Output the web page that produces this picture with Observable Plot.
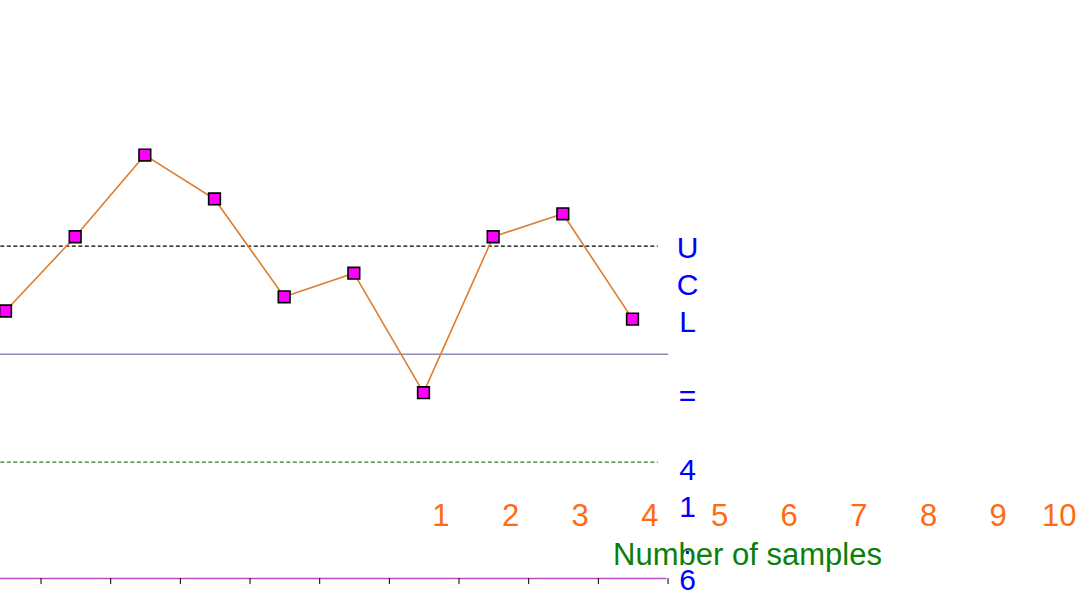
<!DOCTYPE html>
<html><head><meta charset="utf-8">
<script src="https://cdn.jsdelivr.net/npm/d3@7"></script>
<script src="https://cdn.jsdelivr.net/npm/@observablehq/plot@0.6"></script>
<style>html,body{margin:0;padding:0;background:#fff} svg{display:block}</style>
</head><body><div id="chart"></div>
<script>
// sample numbers and measured values
const samples = [1, 2, 3, 4, 5, 6, 7, 8, 9, 10];
const values = [40.64, 41.74, 42.95, 42.30, 40.85, 41.20, 39.43, 41.74, 42.08, 40.52];
// control limits
const ucl = 41.6;
const cl = 40.0;
const lcl = 38.4;
// text
const tickLabels = ["1", "2", "3", "4", "5", "6", "7", "8", "9", "10"];
const axisTitle = "Number of samples";
const uclLabel = "UCL = 41.6";

const data = samples.map((s, i) => ({sample: s, value: values[i]}));
const last = samples[samples.length - 1];
const verticalText = d => d.split("").map(c => c === " " ? "" : c).join("\n");

const chart = Plot.plot({
  width: 1077,
  height: 593,
  marginLeft: 0,
  marginRight: 412,
  marginTop: 0,
  marginBottom: 15,
  style: {fontFamily: "'Liberation Sans', Arial, sans-serif", background: "#fff", overflow: "visible"},
  x: {type: "linear", domain: [1, 10], range: [5, 632]},
  y: {type: "linear", domain: [lcl, ucl], range: [461.7, 245.7], axis: null},
  marks: [
    Plot.ruleY([ucl], {x1: 0, x2: last + 0.37, stroke: "#000", strokeDasharray: "4,2.5", strokeWidth: 1.2}),
    Plot.ruleY([cl], {x1: 0, x2: last + 0.52, stroke: "#9088b8", strokeWidth: 1.6}),
    Plot.ruleY([lcl], {x1: 0, x2: last + 0.37, stroke: "#2f7a2f", strokeDasharray: "4,2.5", strokeWidth: 1.2}),
    Plot.frame({anchor: "bottom", stroke: "#c04cc0", strokeWidth: 1.5}),
    Plot.axisX(samples.map(s => s + 0.51), {tickSize: 6, tickFormat: () => "", stroke: "#000", label: null}),
    Plot.line(data, {x: "sample", y: "value", stroke: "#e07d2c", strokeWidth: 1.6}),
    Plot.dot(data, {x: "sample", y: "value", symbol: "square", r: 6.6, fill: "#ff00ff", stroke: "#000", strokeWidth: 1.6}),
    Plot.text(tickLabels, {x: (d, i) => samples[i], text: d => d, frameAnchor: "bottom", lineAnchor: "middle", textAnchor: "end", dy: -62, dx: 444, fill: "#ff6a13", fontSize: 31}),
    Plot.text([axisTitle], {x: () => last, text: d => d, frameAnchor: "bottom", lineAnchor: "middle", dy: -23, dx: 115, fill: "#0a800a", fontSize: 31}),
    Plot.text([uclLabel], {x: () => last, y: () => ucl, text: verticalText, lineAnchor: "top", lineHeight: 36.9 / 30, dx: 55, dy: -14, fill: "#0000ff", fontSize: 30})
  ]
});
document.getElementById("chart").appendChild(chart);
</script>
</body></html>
